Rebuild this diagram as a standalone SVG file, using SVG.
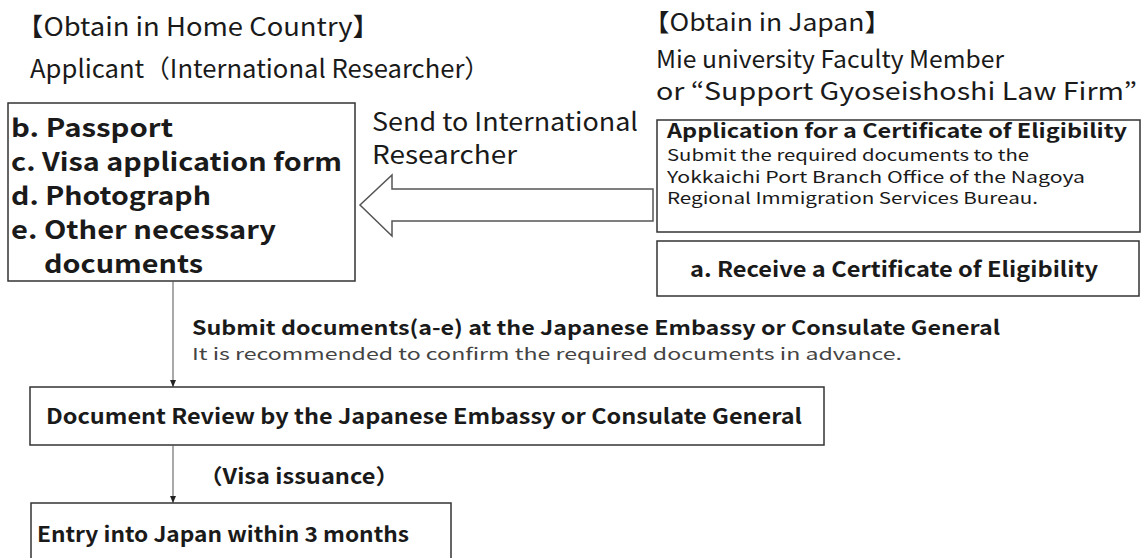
<svg xmlns="http://www.w3.org/2000/svg" width="1147" height="558" viewBox="0 0 1147 558">
<style>
text{font-family:"Noto Sans CJK JP","Noto Sans",sans-serif;fill:#1a1a1a}
.r{font-weight:400}
.b{font-weight:700}
.box{fill:#fff;stroke:#333;stroke-width:1.5}
.ln{stroke:#555;stroke-width:1;fill:none}
.g{fill:#444}
</style>
<defs>
<marker id="ah" markerWidth="8" markerHeight="8" refX="7" refY="4" orient="auto" markerUnits="userSpaceOnUse">
<path d="M0,1 L7,4 L0,7 Z" fill="#222"/>
</marker>
</defs>
<rect width="1147" height="558" fill="#fff"/>

<g id="labels">
<text class="r" x="16" y="36" font-size="25" textLength="364" lengthAdjust="spacingAndGlyphs">【Obtain in Home Country】</text>
<text class="r" x="30" y="78" font-size="25" textLength="460" lengthAdjust="spacingAndGlyphs">Applicant（International Researcher）</text>
<text class="r" x="643" y="31" font-size="24" textLength="248" lengthAdjust="spacingAndGlyphs">【Obtain in Japan】</text>
<text class="r" x="656" y="68" font-size="24" textLength="348" lengthAdjust="spacingAndGlyphs">Mie university Faculty Member</text>
<text class="r" x="656" y="100" font-size="24" textLength="481" lengthAdjust="spacingAndGlyphs">or “Support Gyoseishoshi Law Firm”</text>
<text class="r" x="372" y="131" font-size="25" textLength="266" lengthAdjust="spacingAndGlyphs">Send to International</text>
<text class="r" x="372" y="164" font-size="25" textLength="145" lengthAdjust="spacingAndGlyphs">Researcher</text>
<text class="b" x="192" y="335" font-size="20" textLength="808" lengthAdjust="spacingAndGlyphs">Submit documents(a-e) at the Japanese Embassy or Consulate General</text>
<text class="r g" x="192" y="360" font-size="16.5" textLength="710" lengthAdjust="spacingAndGlyphs">It is recommended to confirm the required documents in advance.</text>
<text class="b" x="199" y="484" font-size="21" textLength="200" lengthAdjust="spacingAndGlyphs">（Visa issuance）</text>
</g>

<g id="node-documents">
<rect class="box" x="8" y="103" width="347" height="178"/>
<text class="b" x="11" y="137" font-size="25" textLength="162" lengthAdjust="spacingAndGlyphs">b. Passport</text>
<text class="b" x="11" y="171" font-size="25" textLength="331" lengthAdjust="spacingAndGlyphs">c. Visa application form</text>
<text class="b" x="11" y="205" font-size="25" textLength="200" lengthAdjust="spacingAndGlyphs">d. Photograph</text>
<text class="b" x="11" y="239" font-size="25" textLength="265" lengthAdjust="spacingAndGlyphs">e. Other necessary</text>
<text class="b" x="44" y="273" font-size="25" textLength="159" lengthAdjust="spacingAndGlyphs">documents</text>
</g>

<g id="node-application">
<rect class="box" x="657" y="120" width="483" height="112"/>
<text class="b" x="667" y="138" font-size="19.5" textLength="460" lengthAdjust="spacingAndGlyphs">Application for a Certificate of Eligibility</text>
<text class="r" x="667" y="161" font-size="15.5" textLength="362" lengthAdjust="spacingAndGlyphs">Submit the required documents to the</text>
<text class="r" x="667" y="182.5" font-size="15.5" textLength="418" lengthAdjust="spacingAndGlyphs">Yokkaichi Port Branch Office of the Nagoya</text>
<text class="r" x="667" y="204" font-size="15.5" textLength="371" lengthAdjust="spacingAndGlyphs">Regional Immigration Services Bureau.</text>
</g>

<g id="node-receive">
<rect class="box" x="657" y="241" width="482" height="55"/>
<text class="b" x="690" y="277" font-size="21" textLength="408" lengthAdjust="spacingAndGlyphs">a. Receive a Certificate of Eligibility</text>
</g>

<g id="node-review">
<rect class="box" x="30" y="387" width="794" height="58"/>
<text class="b" x="46" y="424" font-size="21" textLength="756" lengthAdjust="spacingAndGlyphs">Document Review by the Japanese Embassy or Consulate General</text>
</g>

<g id="node-entry">
<rect class="box" x="31" y="503" width="420" height="60"/>
<text class="b" x="37" y="542" font-size="21" textLength="372" lengthAdjust="spacingAndGlyphs">Entry into Japan within 3 months</text>
</g>

<g id="connectors">
<polygon points="653,189 392,189 392,175 360,205 392,236 392,221 653,221" fill="#fff" stroke="#555" stroke-width="1.5"/>
<line class="ln" x1="173" y1="281" x2="173" y2="387" marker-end="url(#ah)"/>
<line class="ln" x1="173" y1="445" x2="173" y2="503" marker-end="url(#ah)"/>
</g>
</svg>
